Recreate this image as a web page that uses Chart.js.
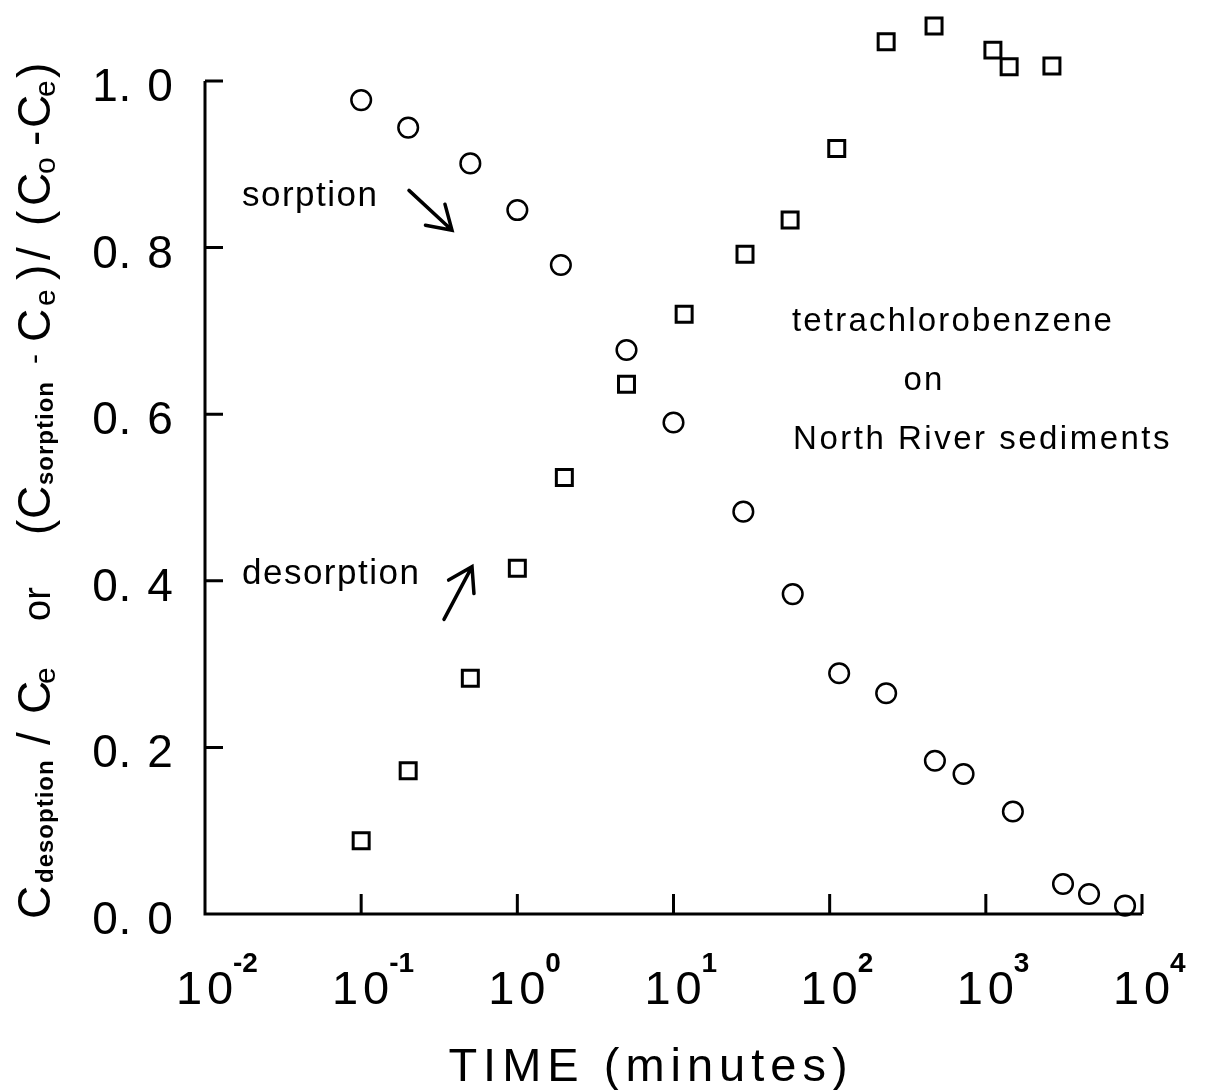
<!DOCTYPE html>
<html>
<head>
<meta charset="utf-8">
<script src="https://cdn.jsdelivr.net/npm/chart.js@4.4.1/dist/chart.umd.min.js"></script>
<style>
  html, body { margin: 0; padding: 0; background: #fff; }
  #wrap { width: 1207px; height: 1090px; position: relative; }
</style>
</head>
<body>
<div id="wrap"><canvas id="chart"></canvas></div>
<script>
// sorption run (circles)
const sorptionTime = [0.1, 0.2, 0.5, 1, 1.9, 5, 10, 28, 58, 115, 230, 472, 720, 1490, 3120, 4580, 7790];
const sorptionValue = [0.977, 0.944, 0.901, 0.845, 0.779, 0.677, 0.590, 0.483, 0.384, 0.289, 0.265, 0.184, 0.168, 0.123, 0.036, 0.024, 0.010];

// desorption run (squares)
const desorptionTime = [0.1, 0.2, 0.5, 1, 2, 5, 11.7, 28.7, 55.8, 111, 230, 466, 1110, 1410, 2650];
const desorptionValue = [0.088, 0.172, 0.283, 0.415, 0.524, 0.636, 0.720, 0.792, 0.833, 0.919, 1.047, 1.066, 1.037, 1.017, 1.018];

// axes
const xTicks = [1e-2, 1e-1, 1e0, 1e1, 1e2, 1e3, 1e4];
const xTickExp = ["-2", "-1", "0", "1", "2", "3", "4"];
const yTicks = [0, 0.2, 0.4, 0.6, 0.8, 1.0];
const yTickLabels = ["0.0", "0.2", "0.4", "0.6", "0.8", "1.0"];
const xTitle = "TIME (minutes)";

// rotated y title, piece by piece: [text, size, bold, drop, bottom edge y]
const yTitle = [
  ["C", 46, false, 0, 919],
  ["desoption", 24, true, 3, 883],
  ["/", 46, false, 0, 745],
  ["C", 46, false, 0, 714],
  ["e", 30, false, 5, 684],
  ["or", 38, false, 0, 621],
  ["(", 46, false, 0, 535],
  ["C", 46, false, 0, 519],
  ["sorption", 24, true, 3, 485],
  ["-", 30, false, -6, 364],
  ["C", 46, false, 0, 342],
  ["e", 30, false, 5, 306],
  [")", 46, false, 0, 280],
  ["/", 46, false, 0, 260],
  ["(", 46, false, 0, 226],
  ["C", 46, false, 0, 206],
  ["o", 30, false, 5, 174],
  ["-", 46, false, 0, 146],
  ["C", 46, false, 0, 128],
  ["e", 30, false, 5, 97],
  [")", 46, false, 0, 78]
];

// annotations in data units
const notes = [
  { text: "sorption", x: 0.01725, y: 0.8495, align: "left", size: 35, spacing: 1.5 },
  { text: "desorption", x: 0.01725, y: 0.3967, align: "left", size: 35, spacing: 1.5 },
  { text: "tetrachlorobenzene", x: 616, y: 0.700, align: "center", size: 33, spacing: 2.2 },
  { text: "on", x: 402, y: 0.629, align: "center", size: 33, spacing: 2.2 },
  { text: "North River sediments", x: 953, y: 0.558, align: "center", size: 33, spacing: 2.5 }
];
const arrows = [
  { from: [0.2024, 0.8686], to: [0.3816, 0.8208] },
  { from: [0.3391, 0.3536], to: [0.5126, 0.4170] }
];

const FONT = '"Liberation Sans", Arial, sans-serif';

function setFont(ctx, size, bold, spacing) {
  ctx.font = (bold ? "bold " : "") + size + "px " + FONT;
  ctx.letterSpacing = (spacing || 0) + "px";
}

const paperPlugin = {
  id: "paper",
  beforeDatasetsDraw(chart) {
    const ctx = chart.ctx;
    const xs = chart.scales.x, ys = chart.scales.y;
    const x0 = xs.getPixelForValue(xTicks[0]);
    const x1 = xs.getPixelForValue(xTicks[xTicks.length - 1]);
    const yb = ys.getPixelForValue(0);
    const yt = ys.getPixelForValue(1.0);

    ctx.save();
    ctx.strokeStyle = "#000";
    ctx.fillStyle = "#000";
    ctx.lineWidth = 3;
    ctx.beginPath();
    ctx.moveTo(x0, yt);
    ctx.lineTo(x0, yb);
    ctx.lineTo(x1, yb);
    yTicks.forEach(v => {
      if (v === 0) return;
      const y = ys.getPixelForValue(v);
      ctx.moveTo(x0, y);
      ctx.lineTo(x0 + 18, y);
    });
    xTicks.forEach((v, i) => {
      if (i === 0) return;
      const x = xs.getPixelForValue(v);
      ctx.moveTo(x, yb);
      ctx.lineTo(x, yb - 20);
    });
    ctx.stroke();

    // y tick labels
    ctx.textAlign = "center";
    ctx.textBaseline = "alphabetic";
    setFont(ctx, 46, false, 0);
    yTicks.forEach((v, i) => {
      const y = ys.getPixelForValue(v) + 20;
      const s = yTickLabels[i];
      ctx.fillText(s[0], x0 - 100, y);
      ctx.fillText(s[1], x0 - 80, y);
      ctx.fillText(s[2], x0 - 45, y);
    });

    // x tick labels, 10 with exponent
    xTicks.forEach((v, i) => {
      const x = xs.getPixelForValue(v);
      setFont(ctx, 47, false, 0);
      ctx.textAlign = "center";
      ctx.fillText("1", x - 16, yb + 90);
      ctx.fillText("0", x + 15, yb + 90);
      setFont(ctx, 28, true, 0);
      ctx.textAlign = "left";
      ctx.fillText(xTickExp[i], x + 28, yb + 58);
    });

    // x title
    setFont(ctx, 47, false, 6);
    ctx.textAlign = "center";
    ctx.fillText(xTitle, x0 + 446, yb + 167);

    // y title, rotated
    ctx.save();
    ctx.translate(50, 0);
    ctx.rotate(-Math.PI / 2);
    ctx.textAlign = "left";
    yTitle.forEach(p => {
      setFont(ctx, p[1], p[2], p[2] ? 1 : 0);
      ctx.fillText(p[0], -p[4], p[3]);
    });
    ctx.restore();

    // notes
    notes.forEach(n => {
      setFont(ctx, n.size, false, n.spacing);
      ctx.textAlign = n.align;
      ctx.fillText(n.text, xs.getPixelForValue(n.x), ys.getPixelForValue(n.y));
    });

    // arrows
    ctx.lineWidth = 3.5;
    ctx.lineCap = "round";
    arrows.forEach(a => {
      const fx = xs.getPixelForValue(a.from[0]), fy = ys.getPixelForValue(a.from[1]);
      const tx = xs.getPixelForValue(a.to[0]), ty = ys.getPixelForValue(a.to[1]);
      const ang = Math.atan2(fy - ty, fx - tx);
      const head = 27, spread = 0.56;
      ctx.beginPath();
      ctx.moveTo(fx, fy);
      ctx.lineTo(tx, ty);
      ctx.moveTo(tx + head * Math.cos(ang + spread), ty + head * Math.sin(ang + spread));
      ctx.lineTo(tx, ty);
      ctx.lineTo(tx + head * Math.cos(ang - spread), ty + head * Math.sin(ang - spread));
      ctx.stroke();
    });
    ctx.restore();
  }
};

const ctx = document.getElementById("chart").getContext("2d");
new Chart(ctx, {
  type: "scatter",
  data: {
    datasets: [
      {
        label: "sorption",
        data: sorptionTime.map((t, i) => ({ x: t, y: sorptionValue[i] })),
        pointStyle: "circle",
        pointRadius: 9.8,
        borderWidth: 2.5,
        borderColor: "#000",
        backgroundColor: "rgba(0,0,0,0)",
        clip: false
      },
      {
        label: "desorption",
        data: desorptionTime.map((t, i) => ({ x: t, y: desorptionValue[i] })),
        pointStyle: "rect",
        pointRadius: 11.3,
        borderWidth: 3,
        borderColor: "#000",
        backgroundColor: "rgba(0,0,0,0)",
        clip: false
      }
    ]
  },
  options: {
    responsive: true,
    maintainAspectRatio: false,
    animation: false,
    layout: { padding: { left: 205, right: 65, top: 10, bottom: 176 } },
    plugins: { legend: { display: false }, tooltip: { enabled: false } },
    scales: {
      x: { type: "logarithmic", min: 0.01, max: 10000, display: false },
      y: { type: "linear", min: 0, max: 1.08, display: false }
    }
  },
  plugins: [paperPlugin]
});
</script>
</body>
</html>
